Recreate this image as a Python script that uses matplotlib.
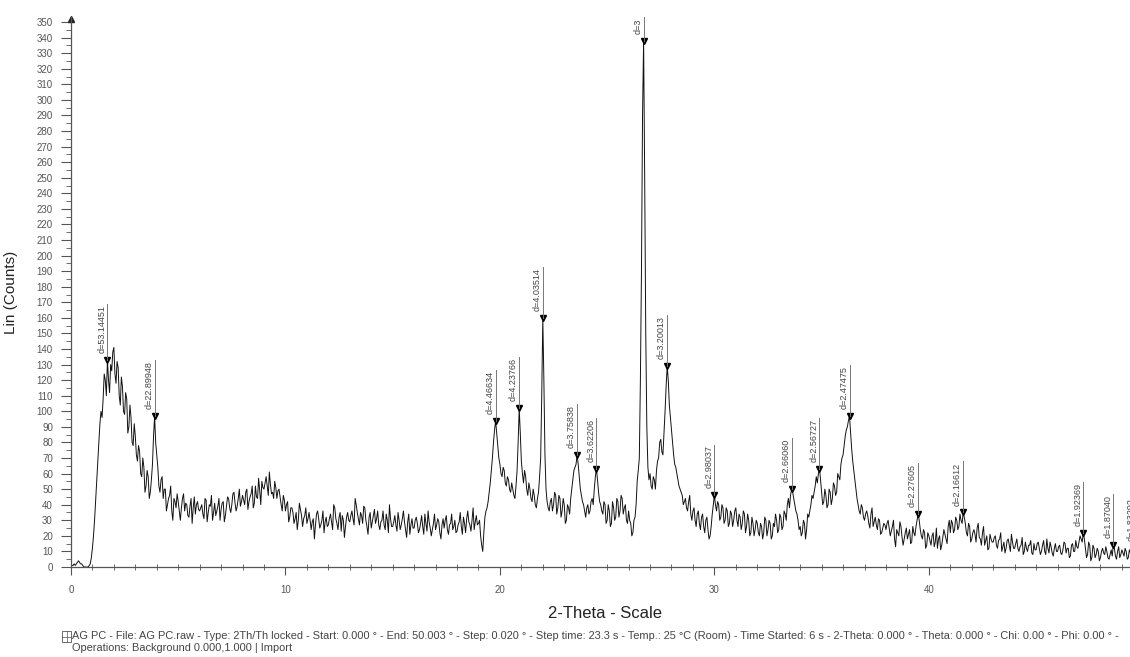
import numpy as np
import matplotlib
matplotlib.use("Agg")
import matplotlib.pyplot as plt
from matplotlib.patches import Rectangle
from matplotlib.ticker import MultipleLocator

plt.rcParams['font.family'] = ['Liberation Sans', 'DejaVu Sans']

# Lin counts at whole 0.1 deg steps, one row per degree 2-theta
counts = [
    2, 1, 1, 3, 3, 2, 0, 0, 0, 2,
    12, 30, 55, 80, 100, 108, 120, 133, 112, 126,
    141, 118, 128, 104, 116, 98, 108, 90, 96, 78,
    84, 68, 74, 58, 64, 52, 58, 48, 66, 97,
    72, 52, 56, 44, 50, 40, 46, 36, 44, 38,
    42, 30, 44, 36, 40, 32, 44, 38, 34, 42,
    36, 40, 31, 43, 35, 39, 30, 41, 36, 44,
    37, 42, 33, 45, 38, 40, 48, 36, 44, 39,
    46, 40, 50, 42, 47, 38, 52, 44, 49, 55,
    50, 58, 46, 53, 48, 55, 44, 50, 40, 46,
    36, 42, 32, 38, 28, 35, 30, 37, 26, 33,
    28, 35, 24, 31, 27, 36, 25, 30, 22, 32,
    27, 34, 24, 38, 28, 32, 23, 30, 26, 35,
    29, 36, 27, 40, 31, 35, 28, 38, 26, 32,
    25, 33, 28, 36, 24, 30, 27, 34, 22, 31,
    26, 33, 23, 30, 27, 36, 24, 29, 21, 31,
    25, 32, 22, 28, 26, 34, 23, 29, 20, 28,
    24, 31, 22, 27, 25, 33, 21, 28, 24, 30,
    23, 29, 26, 32, 22, 36, 27, 30, 24, 33,
    28, 20, 10, 32, 38, 48, 62, 80, 94, 78,
    66, 58, 62, 52, 56, 48, 50, 44, 62, 102,
    68, 54, 58, 46, 50, 42, 46, 38, 48, 70,
    160, 72, 42, 36, 44, 40, 46, 38, 44, 36,
    40, 30, 38, 44, 56, 64, 72, 58, 46, 40,
    32, 40, 36, 44, 50, 63, 48, 40, 34, 40,
    30, 36, 28, 38, 32, 42, 36, 44, 38, 30,
    36, 28, 22, 32, 55, 70, 190, 338, 150, 64,
    60, 50, 56, 62, 70, 82, 72, 100, 129, 104,
    88, 72, 64, 56, 50, 46, 42, 38, 42, 34,
    36, 30, 34, 28, 32, 26, 30, 24, 20, 34,
    46, 36, 40, 32, 38, 30, 36, 28, 34, 30,
    38, 26, 32, 28, 34, 26, 30, 22, 28, 24,
    28, 20, 26, 22, 30, 24, 28, 20, 26, 30,
    24, 32, 26, 34, 40, 38, 50, 44, 36, 30,
    26, 22, 28, 24, 32, 40, 44, 52, 54, 63,
    48, 42, 46, 40, 48, 44, 52, 48, 58, 66,
    72, 84, 90, 97, 76, 62, 50, 40, 34, 38,
    30, 36, 28, 34, 26, 32, 24, 30, 22, 28,
    24, 30, 20, 26, 18, 24, 20, 26, 14, 22,
    18, 24, 16, 22, 26, 34, 24, 18, 22, 14,
    20, 14, 22, 16, 12, 20, 14, 24, 18, 26,
    22, 28, 24, 30, 26, 30, 35, 28, 20, 26,
    18, 24, 16, 28, 18, 22, 14, 20, 12, 18,
    16, 20, 12, 18, 10, 16, 12, 18, 10, 16,
    12, 18, 10, 14, 8, 16, 10, 14, 9, 15,
    11, 16, 8, 14, 10, 18, 9, 13, 7, 15,
    10, 14, 8, 16, 9, 12, 7, 15, 10, 13,
    16, 18, 22, 12, 8, 14, 6, 12, 8, 10,
    6, 12, 8, 10, 5, 11, 14, 7, 10, 6,
    11, 7, 10, 6, 9, 12, 8, 12, 7, 10,
    9,
]
# counts in between, at x.x5 deg (the noise spikes between the steps above)
counts_mid = [
    1, 2, 2, 4, 2, 1, 0, 0, 1, 6,
    20, 42, 68, 92, 96, 124, 110, 120, 130, 138,
    124, 132, 110, 122, 100, 112, 86, 104, 80, 92,
    72, 78, 60, 70, 48, 62, 44, 56, 84, 80,
    64, 48, 58, 50, 36, 44, 52, 30, 42, 47,
    36, 38, 47, 41, 33, 39, 28, 45, 40, 37,
    38, 34, 44, 29, 40, 46, 35, 33, 39, 30,
    41, 29, 39, 44, 35, 47, 41, 39, 50, 42,
    43, 48, 37, 45, 52, 41, 45, 57, 40, 51,
    54, 52, 61, 47, 44, 51, 49, 45, 36, 43,
    40, 29, 38, 35, 31, 24, 41, 33, 31, 38,
    31, 30, 29, 18, 34, 31, 27, 36, 29, 26,
    31, 29, 40, 31, 24, 35, 33, 19, 32, 30,
    33, 31, 44, 35, 27, 33, 39, 30, 21, 35,
    29, 37, 31, 27, 29, 36, 24, 30, 40, 26,
    29, 27, 35, 24, 31, 29, 19, 34, 27, 25,
    30, 28, 24, 33, 21, 28, 36, 25, 24, 34,
    27, 29, 18, 31, 30, 24, 27, 34, 26, 22,
    27, 35, 21, 28, 31, 29, 23, 38, 29, 27,
    30, 14, 22, 36, 42, 54, 70, 88, 86, 70,
    60, 64, 54, 58, 50, 54, 46, 52, 80, 86,
    60, 62, 50, 54, 44, 50, 40, 44, 58, 110,
    120, 50, 38, 42, 36, 48, 34, 46, 32, 44,
    28, 40, 34, 50, 62, 66, 66, 50, 42, 36,
    38, 34, 42, 40, 58, 56, 42, 36, 42, 28,
    40, 26, 42, 30, 44, 32, 46, 34, 40, 28,
    30, 20, 30, 40, 62, 120, 290, 250, 90, 56,
    52, 58, 50, 68, 80, 74, 86, 116, 120, 96,
    80, 66, 60, 52, 48, 40, 44, 36, 46, 30,
    38, 26, 36, 24, 34, 22, 32, 18, 26, 40,
    40, 42, 30, 40, 28, 38, 26, 36, 26, 36,
    30, 34, 24, 36, 22, 34, 20, 32, 20, 30,
    22, 28, 18, 32, 20, 30, 18, 28, 34, 22,
    34, 24, 36, 30, 44, 46, 48, 40, 34, 24,
    20, 30, 18, 34, 36, 46, 48, 58, 60, 56,
    40, 50, 38, 50, 40, 54, 46, 60, 56, 70,
    78, 88, 94, 86, 68, 56, 44, 36, 40, 32,
    34, 33, 25, 38, 29, 27, 31, 21, 25, 27,
    28, 25, 23, 30, 13, 22, 29, 19, 18, 25,
    21, 15, 26, 20, 30, 30, 20, 24, 12, 22,
    17, 20, 13, 25, 18, 11, 19, 21, 15, 30,
    30, 22, 32, 24, 34, 28, 32, 22, 28, 16,
    22, 21, 25, 19, 14, 26, 17, 11, 21, 16,
    19, 14, 17, 22, 13, 9, 17, 14, 21, 12,
    15, 12, 13, 19, 10, 12, 14, 17, 8, 11,
    15, 12, 10, 17, 8, 12, 16, 9, 12, 10,
    13, 9, 11, 15, 12, 6, 14, 10, 17, 12,
    20, 16, 18, 6, 16, 4, 14, 6, 12, 4,
    10, 9, 13, 6, 8, 7, 12, 5, 13, 8,
    9, 12, 5, 11, 8, 14, 9, 6, 6, 11,
]
step = 0.05

# peak search results
peak_pos = [1.7, 3.9, 19.8, 20.9, 22.0, 23.6, 24.5, 26.7, 27.8, 30.0,
            33.6, 34.9, 36.3, 39.5, 41.6, 47.2, 48.6, 49.7]
peak_d = ['d=53.14451', 'd=22.89948', 'd=4.46634', 'd=4.23766', 'd=4.03514',
          'd=3.75838', 'd=3.62206', 'd=3', 'd=3.20013', 'd=2.98037',
          'd=2.66060', 'd=2.56727', 'd=2.47475', 'd=2.27605', 'd=2.16612',
          'd=1.92369', 'd=1.87040', 'd=1.83292']

footer1 = ("AG PC - File: AG PC.raw - Type: 2Th/Th locked - Start: 0.000 \u00b0 - End: 50.003 \u00b0 - "
           "Step: 0.020 \u00b0 - Step time: 23.3 s - Temp.: 25 \u00b0C (Room) - Time Started: 6 s - "
           "2-Theta: 0.000 \u00b0 - Theta: 0.000 \u00b0 - Chi: 0.00 \u00b0 - Phi: 0.00 \u00b0 -")
footer2 = "Operations: Background 0.000,1.000 | Import"

lin = np.empty(len(counts) + len(counts_mid))
lin[0::2] = counts
lin[1::2] = counts_mid
two_theta = np.arange(len(lin)) * step

fig = plt.figure(figsize=(11.3, 6.57), dpi=100)
ax = fig.add_axes([0.0628, 0.137, 0.949, 0.8366])

ax.plot(two_theta, lin, color='#111111', lw=0.7)

ax.set_xlim(0, 50)
ax.set_ylim(0, 353)
for s in ['top', 'right']:
    ax.spines[s].set_visible(False)
for s in ['left', 'bottom']:
    ax.spines[s].set_color('#555555')
    ax.spines[s].set_linewidth(0.9)

ax.set_xticks([0, 10, 20, 30, 40])
ax.xaxis.set_minor_locator(MultipleLocator(1))
ax.set_yticks(np.arange(0, 351, 10))
ax.yaxis.set_minor_locator(MultipleLocator(5))
ax.tick_params(axis='x', which='major', length=6, direction='out', labelsize=7,
               colors='#555555', pad=7)
ax.tick_params(axis='x', which='minor', length=4, direction='inout', colors='#555555')
ax.tick_params(axis='y', which='major', length=7, direction='out', labelsize=7,
               colors='#555555', pad=6)
ax.tick_params(axis='y', which='minor', length=3.5, direction='out', colors='#555555')

# arrow head on top of y axis
ax.plot([0], [352], marker='^', color='#222222', ms=5, clip_on=False)

# peak markers with d-spacing labels
anns = []
for pos, lab in zip(peak_pos, peak_d):
    y = lin[int(round(pos / step))]
    ax.plot([pos], [y], marker='v', color='black', ms=4.5, clip_on=False)
    a = ax.annotate(lab, xy=(pos, y), xytext=(-0.8, 5), textcoords='offset points',
                    rotation=90, ha='right', va='bottom', fontsize=6.5, color='#444444',
                    annotation_clip=False)
    anns.append((a, pos, y))

fig.canvas.draw()
renderer = fig.canvas.get_renderer()
inv = ax.transData.inverted()
for a, pos, y in anns:
    bb = a.get_window_extent(renderer)
    top = inv.transform((0, bb.y1 + 1))[1]
    ax.plot([pos, pos], [y, top], color='#777777', lw=0.7, clip_on=False)

ax.yaxis.set_label_coords(-0.049, 0.5)
ax.set_ylabel('Lin (Counts)', fontsize=11, color='#222222')
fig.text(605 / 1130, 1 - 614 / 657, '2-Theta - Scale', ha='center', va='center',
         fontsize=12, color='#222222')

# file info icon and footer
fig.patches.append(Rectangle((62 / 1130, 1 - 642 / 657), 9 / 1130, 11 / 657,
                             transform=fig.transFigure, fill=False, ec='#555555', lw=0.6))
fig.add_artist(plt.Line2D([62 / 1130, 71 / 1130], [1 - 636.5 / 657] * 2,
                          transform=fig.transFigure, color='#555555', lw=0.5))
fig.add_artist(plt.Line2D([66.5 / 1130] * 2, [1 - 642 / 657, 1 - 631 / 657],
                          transform=fig.transFigure, color='#555555', lw=0.5))
fig.text(72 / 1130, 1 - 636 / 657, footer1, ha='left', va='center', fontsize=7.9,
         color='#444444')
fig.text(72 / 1130, 1 - 648 / 657, footer2, ha='left', va='center', fontsize=7.9,
         color='#444444')

fig.savefig('out.png', dpi=100)
